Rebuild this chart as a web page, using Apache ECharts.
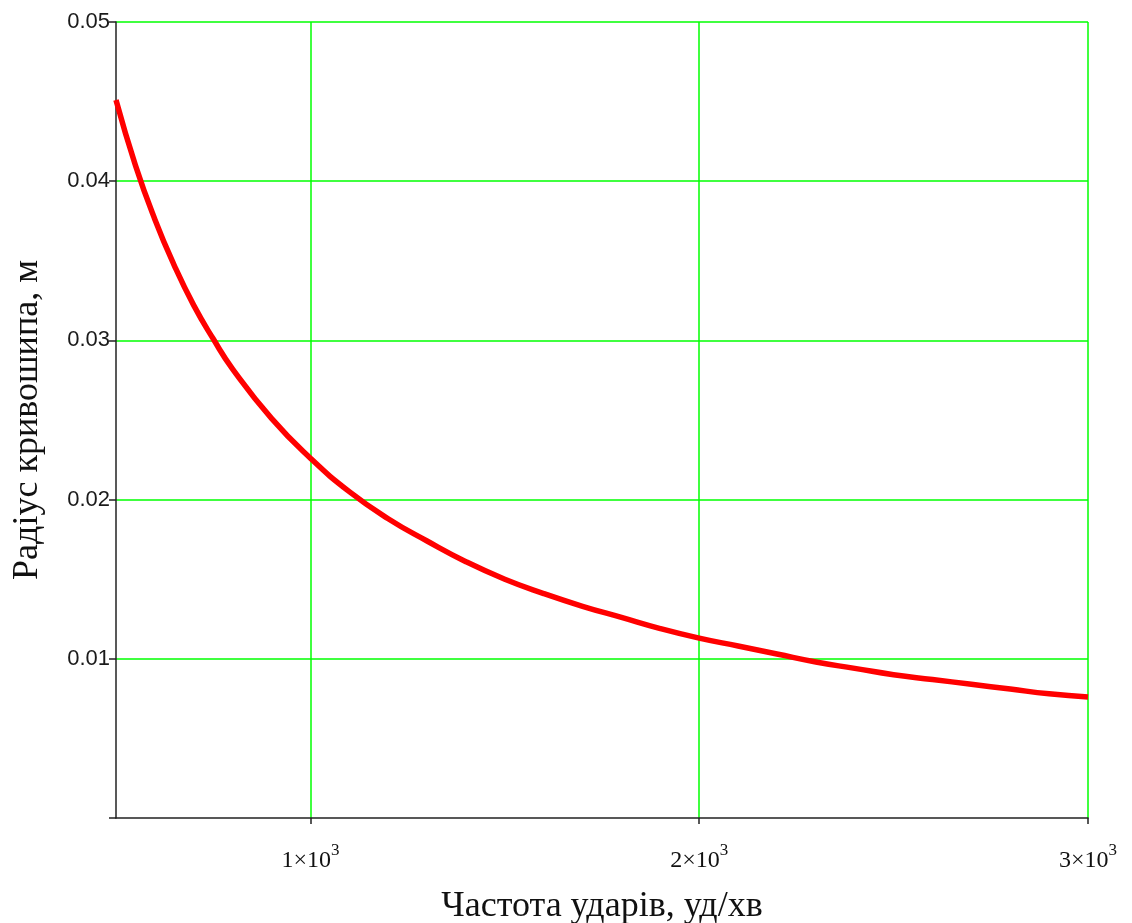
<!DOCTYPE html>
<html>
<head>
<meta charset="utf-8">
<script src="https://cdn.jsdelivr.net/npm/echarts@6/dist/echarts.min.js"></script>
<style>
html,body{margin:0;padding:0;background:#fff;}
#chart{width:1132px;height:923px;}
</style>
</head>
<body>
<div id="chart"></div>
<script>
// Strike frequency, blows/min
var frequency = [500, 550, 600, 650, 700, 750, 800, 900, 1000, 1100, 1200, 1300, 1400, 1500, 1600, 1700, 1800, 1900, 2000, 2100, 2200, 2300, 2400, 2500, 2600, 2700, 2800, 2900, 3000];
// Crank radius, m
var radius = [0.0451, 0.0410, 0.0376, 0.0347, 0.0322, 0.0301, 0.0282, 0.0251, 0.0226, 0.0205, 0.0188, 0.0174, 0.0161, 0.0150, 0.0141, 0.0133, 0.0126, 0.0119, 0.0113, 0.0108, 0.0103, 0.0098, 0.0094, 0.0090, 0.0087, 0.0084, 0.0081, 0.0078, 0.0076];
var xTicks = [1000, 2000, 3000];
var xTickLabels = ['1×10|3', '2×10|3', '3×10|3'];
var yTicks = [0, 0.01, 0.02, 0.03, 0.04, 0.05];
var yTickLabels = ['', '0.01', '0.02', '0.03', '0.04', '0.05'];
var xTitle = 'Частота ударів, уд/хв';
var yTitle = 'Радіус кривошипа, м';

var chart = echarts.init(document.getElementById('chart'), null, {renderer: 'canvas'});
var pts = frequency.map(function (v, i) { return [v, radius[i]]; });

chart.setOption({
  animation: false,
  backgroundColor: '#ffffff',
  grid: {left: 116, top: 22, right: 44, bottom: 105, containLabel: false, outerBoundsMode: 'none'},
  xAxis: {
    type: 'value',
    min: 500,
    max: 3000,
    axisLine: {show: true, onZero: false, lineStyle: {color: '#222', width: 1.5}},
    axisTick: {show: true, length: 6, customValues: xTicks, lineStyle: {color: '#222', width: 1.5}},
    splitLine: {show: true, lineStyle: {color: '#00ff00', width: 1.5}},
    axisLabel: {
      customValues: xTicks,
      margin: 24,
      formatter: function (v) {
        var i = xTicks.indexOf(v);
        var parts = xTickLabels[i].split('|');
        return '{a|' + parts[0] + '}{b|' + parts[1] + '}';
      },
      rich: {
        a: {fontFamily: 'Liberation Serif', fontSize: 24, color: '#111'},
        b: {fontFamily: 'Liberation Serif', fontSize: 17, color: '#111', padding: [0, 0, 20, 0]}
      }
    },
    name: xTitle,
    nameLocation: 'middle',
    nameGap: 71,
    nameTextStyle: {fontFamily: 'Liberation Serif', fontSize: 36, color: '#111'}
  },
  yAxis: {
    type: 'value',
    min: 0,
    max: 0.05,
    interval: 0.01,
    axisLine: {show: true, onZero: false, lineStyle: {color: '#222', width: 1.5}},
    axisTick: {show: true, length: 7, lineStyle: {color: '#222', width: 1.5}},
    splitLine: {show: true, showMinLine: false, lineStyle: {color: '#00ff00', width: 1.5}},
    axisLabel: {
      margin: 6,
      fontFamily: 'Liberation Sans',
      fontSize: 22,
      color: '#1a1a1a',
      padding: [6, 0, 0, 0],
      formatter: function (v) {
        for (var i = 0; i < yTicks.length; i++) {
          if (Math.abs(yTicks[i] - v) < 1e-9) return yTickLabels[i];
        }
        return '';
      }
    },
    name: yTitle,
    nameLocation: 'middle',
    nameGap: 70,
    nameRotate: 90,
    nameTextStyle: {fontFamily: 'Liberation Serif', fontSize: 36, color: '#111'}
  },
  series: [{
    type: 'line',
    data: pts,
    smooth: true,
    showSymbol: false,
    symbol: 'none',
    lineStyle: {color: '#ff0000', width: 5.5},
    z: 5
  }]
});
</script>
</body>
</html>
